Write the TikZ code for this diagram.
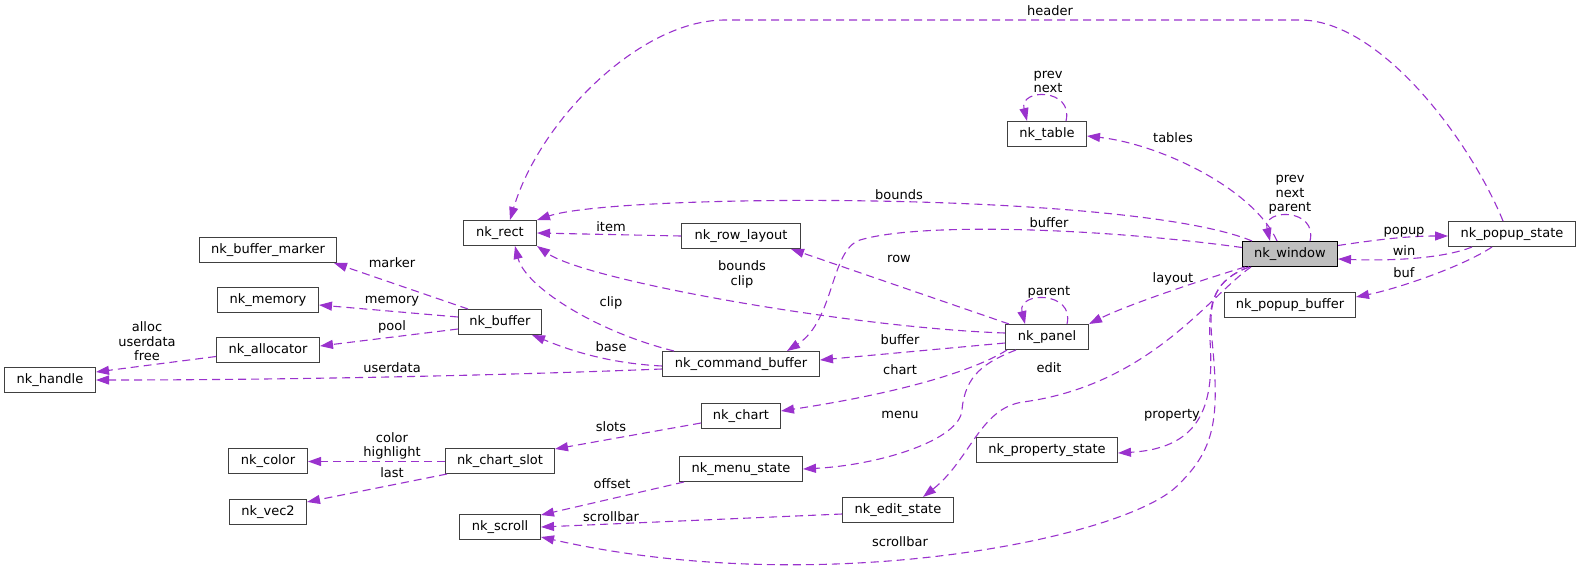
\documentclass[tikz,border=0pt]{standalone}
\usepackage{fontspec}
\setmainfont{DejaVu Sans}
\usetikzlibrary{arrows.meta}

\definecolor{edgecol}{HTML}{9A32CD}
\definecolor{boxline}{HTML}{404040}
\definecolor{winfill}{HTML}{BFBFBF}

\begin{document}
\begin{tikzpicture}[x=1pt, y=-1pt,
        cls/.style={draw=boxline, line width=1pt, fill=white, minimum height=25pt, inner sep=0pt, font=\fontsize{13}{15}\selectfont},
        mem/.style={draw=edgecol, line width=1.1pt, dash pattern=on 8pt off 5pt, -{Triangle[length=13pt,width=9pt]}},
        lbl/.style={font=\fontsize{13}{14.5}\selectfont, align=center, inner sep=0pt}]
        \useasboundingbox (0,0) rectangle (1580,568);

        \node[cls, minimum width=91pt] (handle) at (50,380) {nk\_handle};
        \node[cls, minimum width=137pt] (bufmarker) at (268,250) {nk\_buffer\_marker};
        \node[cls, minimum width=101pt] (memory) at (268,300) {nk\_memory};
        \node[cls, minimum width=103pt] (allocator) at (268,350) {nk\_allocator};
        \node[cls, minimum width=79pt] (color) at (268,461) {nk\_color};
        \node[cls, minimum width=77pt] (vec2) at (268,512) {nk\_vec2};
        \node[cls, minimum width=109pt] (chartslot) at (500,461) {nk\_chart\_slot};
        \node[cls, minimum width=81pt] (scroll) at (500,527) {nk\_scroll};
        \node[cls, minimum width=73pt] (rect) at (500,233) {nk\_rect};
        \node[cls, minimum width=83pt] (buffer) at (500,322) {nk\_buffer};
        \node[cls, minimum width=119pt] (rowlayout) at (741,236) {nk\_row\_layout};
        \node[cls, minimum width=157pt] (cmdbuf) at (741,364) {nk\_command\_buffer};
        \node[cls, minimum width=79pt] (chart) at (741,416) {nk\_chart};
        \node[cls, minimum width=123pt] (menustate) at (741,469) {nk\_menu\_state};
        \node[cls, minimum width=111pt] (editstate) at (898,510) {nk\_edit\_state};
        \node[cls, minimum width=83pt] (panel) at (1047,337) {nk\_panel};
        \node[cls, minimum width=141pt] (propstate) at (1047,450) {nk\_property\_state};
        \node[cls, minimum width=79pt] (table) at (1047,134) {nk\_table};
        \node[cls, minimum width=95pt, fill=winfill, draw=black] (window) at (1290,254) {nk\_window};
        \node[cls, minimum width=127pt] (popupstate) at (1512,234) {nk\_popup\_state};
        \node[cls, minimum width=131pt] (popupbuf) at (1290,305) {nk\_popup\_buffer};

        \draw[mem] ([yshift=-6.5pt]allocator.west) -- ([yshift=8pt]handle.east);
        \draw[mem] ([yshift=-5pt]cmdbuf.west) .. controls +(-150,6) and +(200,0) .. (handle.east);
        \draw[mem] ([xshift=10pt]buffer.north west) -- ([xshift=-3pt]bufmarker.south east);
        \draw[mem] ([yshift=5pt]buffer.west) -- ([yshift=-5pt]memory.east);
        \draw[mem] ([yshift=-7pt]buffer.west) -- ([yshift=4pt]allocator.east);
        \draw[mem] ([yshift=-2pt]cmdbuf.west) .. controls +(-60,-3) and +(30,12) .. ([xshift=-10pt]buffer.south east);
        \draw[mem] ([xshift=12pt]cmdbuf.north west) .. controls +(-80,-20) and +(10,40) .. ([xshift=15pt]rect.south);
        \draw[mem] (rowlayout.west) -- (rect.east);
        \draw[mem] ([yshift=4pt]panel.west) .. controls +(-150,-5) and +(50,35) .. (rect.south east);
        \draw[mem] ([xshift=10pt]window.north west) .. controls +(-120,-50) and +(80,-27) .. (rect.north east);
        \draw[mem] ([xshift=-9pt]popupstate.north) .. controls (1470,140) and (1380,20) .. (1300,20)
            -- (725,20) .. controls (640,20) and (540,120) .. ([xshift=10pt]rect.north);
        \draw[mem] ([xshift=4pt]panel.north west) -- ([xshift=-10pt]rowlayout.south east);
        \draw[mem] ([yshift=-6pt]panel.west) -- ([yshift=4pt]cmdbuf.east);
        \draw[mem] ([yshift=6.5pt]window.west) .. controls (1100,228) and (920,222) .. (860,240)
            .. controls (830,250) and (835,320) .. ([xshift=46pt]cmdbuf.north);
        \draw[mem] ([xshift=2pt]panel.south west) .. controls +(-40,25) and +(100,-15) .. ([yshift=5pt]chart.east);
        \draw[mem] ([xshift=11pt]panel.south west) .. controls (985,362) and (965,375) .. (962,410)
            .. controls (960,440) and (880,465) .. (menustate.east);
        \draw[mem] ([yshift=-7pt]chart.west) -- ([yshift=12pt]chartslot.east);
        \draw[mem] ([yshift=-0.5pt]chartslot.west) -- ([yshift=-0.5pt]color.east);
        \draw[mem] ([xshift=2pt]chartslot.south west) -- ([yshift=10pt]vec2.east);
        \draw[mem] ([xshift=5pt]menustate.south west) -- ([yshift=-1pt]scroll.north east);
        \draw[mem] ([yshift=-4pt]editstate.west) -- (scroll.east);
        \draw[mem] ([xshift=7pt]window.south west) .. controls (1215,280) and (1208,300) .. (1212,340)
            .. controls (1220,420) and (1215,450) .. (1176,487)
            .. controls (1120,539) and (820,600) .. ([yshift=-10pt]scroll.east);
        \draw[mem] ([xshift=9pt]window.south west) .. controls (1210,295) and (1150,385) .. (1023,402)
            .. controls (980,408) and (970,460) .. ([xshift=25pt]editstate.north);
        \draw[mem] ([xshift=7pt]window.south west) .. controls (1215,280) and (1208,300) .. (1210,340)
            .. controls (1214,400) and (1205,448) .. ([yshift=-3pt]propstate.east);
        \draw[mem] ([xshift=3pt]window.south west) .. controls +(-40,12) and +(40,-20) .. (panel.north east);
        \draw[mem] ([xshift=20pt]panel.north) .. controls +(8,-33) and +(-8,-33) .. ([xshift=-22pt]panel.north);
        \draw[mem] ([xshift=19pt]table.north) .. controls +(8,-33) and +(-8,-33) .. ([xshift=-20pt]table.north);
        \draw[mem] ([xshift=-13pt]window.north) .. controls +(-23,-52) and +(73,8) .. ([yshift=-2pt]table.east);
        \draw[mem] ([xshift=20pt]window.north) .. controls +(8,-33) and +(-8,-33) .. ([xshift=-20pt]window.north);
        \draw[mem] ([yshift=8.5pt]window.east) .. controls +(40,-6) and +(-40,0) .. ([yshift=-2pt]popupstate.west);
        \draw[mem] ([xshift=24pt]popupstate.south west) .. controls +(-30,12) and +(50,2) .. ([yshift=-5pt]window.east);
        \draw[mem] ([xshift=-20pt]popupstate.south) .. controls +(-30,20) and +(40,-8) .. ([yshift=8pt]popupbuf.east);

        \node[lbl] (l_header) at (1050,11) {header};
        \node[lbl] (l_tblself) at (1048,82) {prev\\next};
        \node[lbl] (l_tables) at (1173,138) {tables};
        \node[lbl] (l_winself) at (1290,195) {prev\\next\\parent};
        \node[lbl] (l_bounds) at (899,195) {bounds};
        \node[lbl] (l_wbuffer) at (1049,223) {buffer};
        \node[lbl] (l_item) at (611,227) {item};
        \node[lbl] (l_popup) at (1404,232) {popup};
        \node[lbl] (l_win) at (1404,251) {win};
        \node[lbl] (l_buf) at (1404,273) {buf};
        \node[lbl] (l_marker) at (392,263) {marker};
        \node[lbl] (l_memory) at (392,301) {memory};
        \node[lbl] (l_pool) at (392,327) {pool};
        \node[lbl] (l_bclip) at (742,274.5) {bounds\\clip};
        \node[lbl] (l_row) at (899,259) {row};
        \node[lbl] (l_layout) at (1173,279) {layout};
        \node[lbl] (l_parent) at (1049,292) {parent};
        \node[lbl] (l_clip) at (611,303) {clip};
        \node[lbl] (l_alloc) at (147,341.5) {alloc\\userdata\\free};
        \node[lbl] (l_base) at (611,347) {base};
        \node[lbl] (l_pbuffer) at (900,340) {buffer};
        \node[lbl] (l_userdata) at (392,368) {userdata};
        \node[lbl] (l_edit) at (1049,368) {edit};
        \node[lbl] (l_chart) at (900,370) {chart};
        \node[lbl] (l_slots) at (611,427) {slots};
        \node[lbl] (l_menu) at (900,415) {menu};
        \node[lbl] (l_property) at (1172,415) {property};
        \node[lbl] (l_color) at (392,446) {color\\highlight};
        \node[lbl] (l_last) at (392,473) {last};
        \node[lbl] (l_offset) at (612,484) {offset};
        \node[lbl] (l_escroll) at (611,517) {scrollbar};
        \node[lbl] (l_wscroll) at (900,542) {scrollbar};
    \end{tikzpicture}
\end{document}
